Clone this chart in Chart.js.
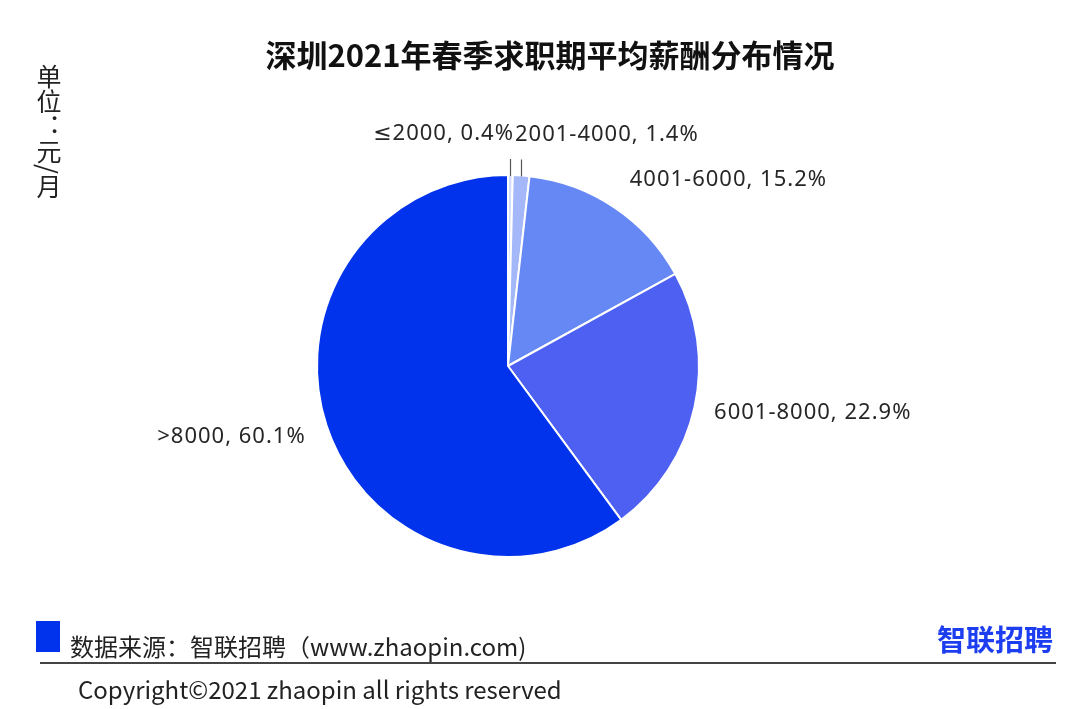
<!DOCTYPE html>
<html>
<head>
<meta charset="utf-8">
<script src="https://cdn.jsdelivr.net/npm/chart.js@4.4.0/dist/chart.umd.min.js"></script>
<style>
  body { margin: 0; background: #fff; font-family: "Noto Sans", "Noto Sans CJK SC", sans-serif; }
  #wrap { position: relative; width: 1080px; height: 709px; overflow: hidden; }
  #myChart { position: absolute; left: 0; top: 0; }
  .title { position: absolute; left: 0; width: 1100px; top: 31px; text-align: center; font-family: "Noto Sans CJK SC", sans-serif; font-weight: bold; font-size: 31px; color: #111; }
  .unit { position: absolute; left: 31px; top: 64px; writing-mode: vertical-rl; font-family: "Noto Sans CJK SC", sans-serif; font-size: 25px; color: #222; }
  .src-box { position: absolute; left: 36px; top: 621px; width: 24px; height: 31px; background: #0033eb; }
  .src { position: absolute; left: 70px; top: 630px; font-family: "Noto Sans CJK SC", sans-serif; font-size: 24px; color: #222; line-height: 32px; }
  .logo { position: absolute; left: 937px; top: 617px; font-family: "Noto Sans CJK SC", sans-serif; font-weight: bold; font-size: 29px; color: #1d3df0; }
  .rule { position: absolute; left: 40px; top: 662px; width: 1016px; height: 2px; background: #444; }
  .copy { position: absolute; left: 78px; top: 673px; font-family: "Noto Sans CJK SC", sans-serif; font-size: 24px; color: #222; line-height: 32px; }
</style>
</head>
<body>
<div id="wrap">
  <canvas id="myChart" width="1080" height="709"></canvas>
  <div class="title">深圳2021年春季求职期平均薪酬分布情况</div>
  <div class="unit">单位：元/月</div>
  <div class="src-box"></div>
  <div class="src">数据来源：智联招聘（www.zhaopin.com)</div>
  <div class="logo">智联招聘</div>
  <div class="rule"></div>
  <div class="copy">Copyright©2021 zhaopin all rights reserved</div>
</div>
<script>
// 薪酬区间 / 占比(%)
var categories = ['≤2000', '2001-4000', '4001-6000', '6001-8000', '>8000']
var shares = [0.4, 1.4, 15.2, 22.9, 60.1]
var colors = ['#d2ddfc', '#a3b7f9', '#6688f5', '#4d60f2', '#0033eb']

// label placement per slice (ext = distance past the rim)
var labelPos = [
  { ext: 41, align: 'right', dx: 3, leader: true },
  { ext: 41, align: 'left', dx: -9, leader: true },
  { ext: 33, align: 'left', dx: -3 },
  { ext: 18, align: 'left', dx: 2, dy: 2 },
  { ext: 23, align: 'right', dx: 1, dy: 4 }
]

var sliceLabels = {
  id: 'sliceLabels',
  afterDraw: function(chart) {
    var ctx = chart.ctx
    var meta = chart.getDatasetMeta(0)
    ctx.save()
    ctx.font = '22px "Noto Sans", "DejaVu Sans", "Noto Sans CJK SC", sans-serif'
    if ('letterSpacing' in ctx) ctx.letterSpacing = '1px'
    ctx.fillStyle = '#262626'
    ctx.textBaseline = 'middle'
    for (let i = 0; i < meta.data.length; i++) {
      var arc = meta.data[i]
      var p = labelPos[i]
      var mid = (arc.startAngle + arc.endAngle) / 2
      var r = arc.outerRadius
      var ex = arc.x + Math.cos(mid) * (r + p.ext)
      var ey = arc.y + Math.sin(mid) * (r + p.ext)
      var txt = categories[i] + ', ' + shares[i].toFixed(1) + '%'
      if (p.leader) {
        var lx = Math.round(arc.x + Math.cos(mid) * r) + 0.5
        ctx.strokeStyle = '#555'
        ctx.lineWidth = 1.2
        ctx.beginPath()
        ctx.moveTo(lx, arc.y + Math.sin(mid) * (r - 1))
        ctx.lineTo(lx, arc.y + Math.sin(mid) * (r + 16))
        ctx.stroke()
      }
      ctx.textAlign = p.align
      ctx.fillText(txt, ex + (p.dx || 0), ey + (p.dy || 0))
    }
    ctx.restore()
  }
}

var ctx = document.getElementById('myChart').getContext('2d')
var chart = new Chart(ctx, {
  type: 'pie',
  data: {
    labels: categories,
    datasets: [{
      data: shares,
      backgroundColor: colors,
      borderColor: '#ffffff',
      borderWidth: 2
    }]
  },
  options: {
    responsive: false,
    animation: false,
    layout: { padding: { left: 316, right: 380, top: 174, bottom: 151 } },
    plugins: {
      legend: { display: false },
      tooltip: { enabled: false }
    }
  },
  plugins: [sliceLabels]
})
</script>
</body>
</html>
